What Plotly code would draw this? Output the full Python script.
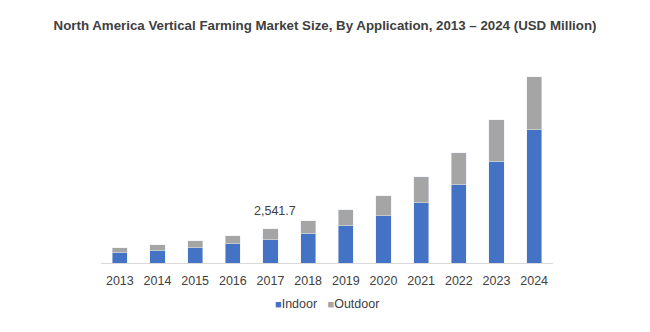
import plotly.graph_objects as go

years = ["2013", "2014", "2015", "2016", "2017", "2018", "2019", "2020", "2021", "2022", "2023", "2024"]
indoor = [750, 900, 1120, 1420, 1720, 2170, 2770, 3510, 4490, 5830, 7550, 9940]
outdoor = [375, 450, 525, 600, 821.7, 970, 1190, 1500, 1940, 2390, 3140, 3960]
label_year = "2017"
label_text = "2,541.7"
series_names = ["Indoor", "Outdoor"]
series_colors = ["#4472C4", "#A5A5A5"]

font = "Liberation Sans, Arial, sans-serif"

fig = go.Figure()
fig.add_trace(go.Bar(x=years, y=indoor, name=series_names[0], marker_color=series_colors[0]))
fig.add_trace(go.Bar(x=years, y=outdoor, name=series_names[1], marker_color=series_colors[1]))

idx = years.index(label_year)
fig.add_annotation(x=idx, y=indoor[idx] + outdoor[idx], text=label_text,
                   showarrow=False, yanchor="bottom", yshift=9, xshift=4,
                   font=dict(family=font, size=12.5, color="#404040"))

legend_html = "&nbsp;&nbsp;&nbsp;".join(
    f"<span style='color:{c};font-size:11px'>■</span>{n}" for n, c in zip(series_names, series_colors)
)
fig.add_annotation(xref="paper", yref="paper", x=0.5, y=-40.5 / 201, xanchor="center", yanchor="middle",
                   text=legend_html, showarrow=False,
                   font=dict(family=font, size=12.5, color="#404040"))

fig.update_layout(
    width=650, height=332,
    barmode="stack", bargap=0.6,
    paper_bgcolor="white", plot_bgcolor="white",
    margin=dict(l=101, r=97, t=62, b=69),
    title=dict(text="<b>North America Vertical Farming Market Size, By Application, 2013 – 2024 (USD Million)</b>",
               x=0.5, xanchor="center", y=1 - 25 / 332, yanchor="middle",
               font=dict(family=font, size=13.3, color="#404040")),
    xaxis=dict(type="category", range=[-0.5, len(years) - 0.5], showline=True, linecolor="#D9D9D9",
               linewidth=1, ticks="", ticklabelstandoff=6,
               tickfont=dict(family=font, size=12.5, color="#404040")),
    yaxis=dict(range=[0, 15000], visible=False, showgrid=False),
    showlegend=False,
)

fig.write_html("out.html")
